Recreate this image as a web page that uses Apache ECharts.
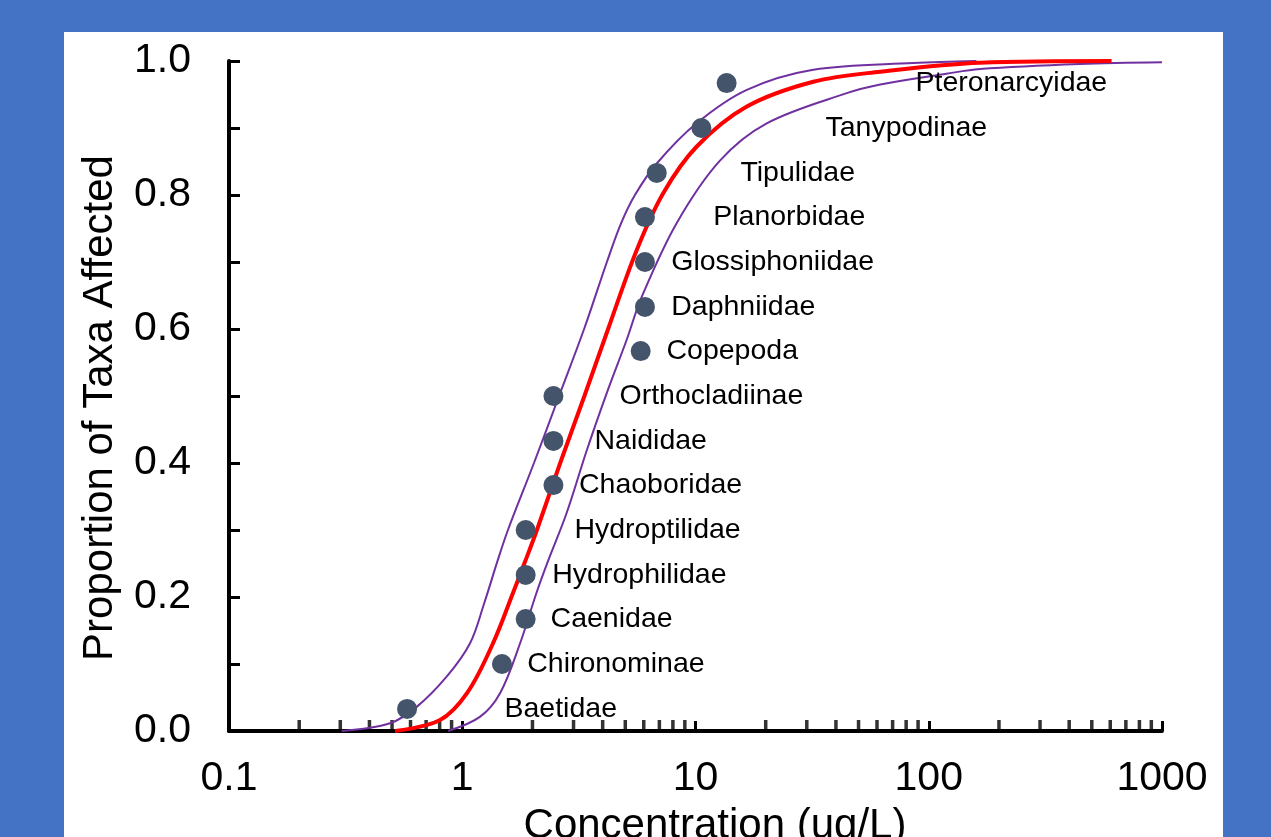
<!DOCTYPE html>
<html>
<head>
<meta charset="utf-8">
<script src="https://cdn.jsdelivr.net/npm/echarts@6/dist/echarts.min.js"></script>
<style>
html,body{margin:0;padding:0;width:1271px;height:837px;overflow:hidden;background:#4472C4;}
#panel{position:absolute;left:64px;top:32px;width:1159px;height:820px;background:#ffffff;}
#chart{position:absolute;left:0;top:0;width:1271px;height:837px;}
</style>
</head>
<body>
<div id="panel"></div>
<div id="chart"></div>
<script>
// ---- data ----
var taxa = ['Baetidae','Chironominae','Caenidae','Hydrophilidae','Hydroptilidae','Chaoboridae','Naididae',
  'Orthocladiinae','Copepoda','Daphniidae','Glossiphoniidae','Planorbidae','Tipulidae','Tanypodinae','Pteronarcyidae'];
var concentration = [0.58, 1.48, 1.87, 1.87, 1.87, 2.46, 2.46, 2.46, 5.82, 6.07, 6.07, 6.07, 6.82, 10.6, 13.6];
var proportion = [0.033, 0.100, 0.167, 0.233, 0.300, 0.367, 0.433, 0.500, 0.567, 0.633, 0.700, 0.767, 0.833, 0.900, 0.967];
// x (concentration) where each taxon label starts
var labelX = [1.51, 1.89, 2.38, 2.42, 3.01, 3.15, 3.67, 4.70, 7.47, 7.83, 7.83, 11.85, 15.5, 35.9, 87.3];

// fitted curve (red) and confidence bounds (purple)
var fitCurve = [[0.515,0],[0.8,0.016],[1.05,0.057],[1.355,0.131],[1.65,0.206],[1.86,0.253],[2.09,0.3],
  [2.63,0.4],[3.34,0.5],[4.22,0.6],[5.6,0.718],[7.28,0.803],[10.1,0.872],[16.6,0.932],[32,0.969],
  [62,0.984],[166,0.9975],[608,1.0]];
var lowerBound = [[0.304,0],[0.49,0.0115],[0.638,0.036],[0.857,0.081],[1.08,0.131],[1.24,0.19],[1.42,0.255],
  [1.57,0.3],[2.03,0.4],[2.6,0.5],[3.33,0.6],[4.17,0.7],[4.8,0.758],[5.5,0.8],[6.82,0.847],[10.1,0.907],[16.6,0.957],
  [32,0.987],[86,0.997],[160,1.0]];
var upperBound = [[0.871,0],[1.19,0.021],[1.45,0.056],[1.77,0.131],[2.08,0.206],[2.34,0.255],[2.8,0.325],
  [3.42,0.419],[4.16,0.504],[5.07,0.584],[5.88,0.648],[8.3,0.758],[12.7,0.851],[20.2,0.907],[44.5,0.952],
  [62,0.965],[119,0.981],[166,0.988],[445,0.9955],[1000,0.998]];

// axis ticks / labels
var xTickLabels = ['0.1','1','10','100','1000'];
var xMinorTicks = [];
[0.1, 1, 10, 100].forEach(function (d) { for (var k = 2; k <= 9; k++) xMinorTicks.push(+(k * d).toPrecision(3)); });

var FONT = '"Liberation Sans", Arial, sans-serif';

var chart = echarts.init(document.getElementById('chart'), null, {renderer: 'canvas'});
chart.setOption({
  animation: false,
  backgroundColor: 'transparent',
  grid: {left: 229, right: 109, top: 61, bottom: 106, containLabel: false},
  xAxis: {
    type: 'log', logBase: 10, min: 0.1, max: 1000,
    axisLine: {show: true, onZero: false, lineStyle: {color: '#000', width: 4}},
    axisTick: {show: true, inside: true, length: 10, lineStyle: {color: '#000', width: 3}},
    splitLine: {show: false},
    axisLabel: {
      show: true, margin: 27, color: '#000', fontSize: 41, fontFamily: FONT,
      showMinLabel: true, showMaxLabel: true,
      formatter: function (v, i) { return xTickLabels[i] !== undefined ? xTickLabels[i] : ''; }
    }
  },
  yAxis: {
    type: 'value', min: 0, max: 1, interval: 0.2,
    axisLine: {show: true, onZero: false, lineStyle: {color: '#000', width: 4}},
    axisTick: {show: true, inside: true, length: 11, lineStyle: {color: '#000', width: 3}},
    minorTick: {show: true, splitNumber: 2, length: 11, lineStyle: {color: '#000', width: 3}},
    splitLine: {show: false},
    axisLabel: {margin: 38, color: '#000', fontSize: 41, fontFamily: FONT,
      formatter: function (v) { return v.toFixed(1); }}
  },
  graphic: [
    {type: 'text', x: 715, y: 826, style: {text: 'Concentration (ug/L)', fill: '#000',
      font: '42px ' + FONT, align: 'center', verticalAlign: 'middle'}},
    {type: 'text', x: 100, y: 408, rotation: Math.PI / 2, style: {text: 'Proportion of Taxa Affected', fill: '#000',
      font: '42px ' + FONT, align: 'center', verticalAlign: 'middle'}}
  ],
  series: [
    {type: 'scatter', silent: true, z: 1, symbol: 'rect', symbolSize: [3.5, 11], symbolOffset: [0, -5.5],
      itemStyle: {color: '#000'}, data: xMinorTicks.map(function (v) { return [v, 0]; })},
    {type: 'line', data: lowerBound, showSymbol: false, smooth: 0.35, z: 2,
      lineStyle: {color: '#7030A0', width: 2}},
    {type: 'line', data: upperBound, showSymbol: false, smooth: 0.35, z: 2,
      lineStyle: {color: '#7030A0', width: 2}},
    {type: 'line', data: fitCurve, showSymbol: false, smooth: 0.35, z: 3,
      lineStyle: {color: '#FF0000', width: 4}},
    {type: 'scatter', z: 4, symbol: 'circle', symbolSize: 20, itemStyle: {color: '#44546A', opacity: 1},
      data: concentration.map(function (c, i) { return [c, proportion[i]]; })},
    {type: 'scatter', z: 5, symbolSize: 1, itemStyle: {color: 'rgba(0,0,0,0)'}, silent: true,
      label: {show: true, position: 'right', distance: 0, color: '#000', opacity: 1, fontSize: 28.5, fontFamily: FONT,
        formatter: function (p) { return taxa[p.dataIndex]; }},
      data: labelX.map(function (c, i) { return [c, proportion[i]]; })}
  ]
});
</script>
</body>
</html>
